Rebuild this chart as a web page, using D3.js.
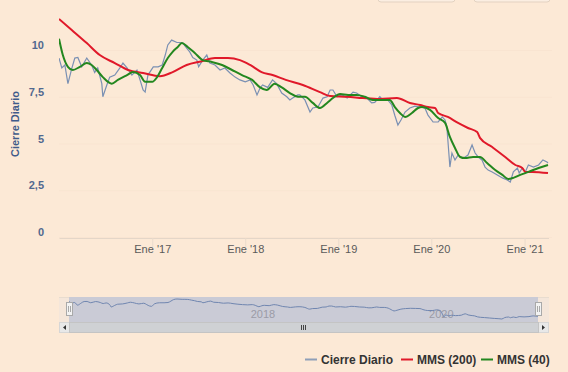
<!DOCTYPE html>
<html>
<head>
<meta charset="utf-8">
<script src="https://cdn.jsdelivr.net/npm/d3@7"></script>
<style>
  body { margin: 0; background: #fce9d6; }
  svg { display: block; font-family: "Liberation Sans", Arial, sans-serif; }
</style>
</head>
<body>
<svg id="chart" width="568" height="372"></svg>
<script>
// Cierre diario (fechas y valores)
let closeDates = ['2016-01-01','2016-01-12','2016-01-24','2016-02-05','2016-02-20','2016-03-03','2016-03-15','2016-03-30',
  '2016-04-19','2016-05-08','2016-05-20','2016-06-01','2016-06-17','2016-06-21','2016-07-06','2016-07-18','2016-08-07',
  '2016-08-27','2016-09-08','2016-09-24','2016-10-13','2016-11-02','2016-11-14','2016-11-26','2016-12-04','2016-12-15',
  '2017-01-05','2017-01-24','2017-02-09','2017-02-21','2017-03-03','2017-03-18','2017-04-08','2017-04-19','2017-05-01',
  '2017-05-16','2017-05-28','2017-06-09','2017-06-25','2017-07-02','2017-07-18','2017-08-03','2017-08-15','2017-09-04',
  '2017-09-24','2017-10-13','2017-11-02','2017-11-22','2017-12-11','2018-01-01','2018-01-20','2018-02-01','2018-02-16',
  '2018-02-28','2018-03-10','2018-03-30','2018-04-18','2018-05-04','2018-05-24','2018-06-13','2018-06-25','2018-07-06',
  '2018-07-26','2018-08-03','2018-08-23','2018-09-12','2018-09-23','2018-10-13','2018-11-02','2018-11-18','2018-11-30',
  '2018-12-11','2018-12-27','2019-01-16','2019-02-05','2019-02-17','2019-02-28','2019-03-14','2019-04-03','2019-04-23',
  '2019-05-12','2019-05-24','2019-06-13','2019-06-25','2019-07-14','2019-07-30','2019-08-11','2019-08-23','2019-09-04',
  '2019-09-20','2019-10-09','2019-10-29','2019-11-18','2019-12-07','2019-12-19','2020-01-08','2020-01-28','2020-02-13',
  '2020-02-24','2020-03-02','2020-03-06','2020-03-14','2020-03-22','2020-04-03','2020-04-15','2020-05-01','2020-05-13',
  '2020-05-24','2020-06-09','2020-06-21','2020-07-03','2020-07-18','2020-07-30','2020-08-11','2020-08-27','2020-09-16',
  '2020-10-06','2020-10-25','2020-11-06','2020-11-18','2020-12-04','2020-12-11','2020-12-23','2021-01-04','2021-01-16',
  '2021-02-05','2021-02-25','2021-03-14','2021-03-30','2021-04-03'];
let closeValues = [9.57,9.04,9.2,8.2,9.0,9.57,9.6,9.1,
  9.57,9.2,8.8,9.04,8.2,7.5,8.1,8.55,8.66,
  9.04,9.3,9.04,8.66,8.93,8.4,7.86,7.75,8.66,
  9.1,9.1,9.2,9.73,10.27,10.53,10.4,10.4,10.37,
  10.1,9.9,9.6,9.46,9.1,9.46,9.73,9.3,9.2,
  8.93,9.04,8.77,8.55,8.4,8.3,8.4,8.13,7.6,
  7.97,8.13,8.0,8.4,8.2,7.7,7.5,7.33,7.43,
  7.6,7.6,7.33,6.68,6.9,6.95,7.43,7.5,7.86,
  7.86,7.5,7.6,7.43,7.6,7.75,7.7,7.5,7.43,
  7.17,7.2,7.5,7.33,7.33,7.06,6.5,5.99,6.26,
  6.68,6.9,7.0,6.95,6.9,6.52,6.15,6.15,6.42,
  6.26,5.88,5.19,3.74,4.49,4.12,4.38,4.22,4.28,
  4.38,4.92,4.49,4.28,4.12,3.74,3.58,3.48,3.32,
  3.16,3.05,2.94,3.48,3.69,3.42,3.69,3.48,3.85,
  3.74,3.85,4.12,4.01,3.96];

// MMS (40)
let mms40Dates = ['2016-01-01','2016-01-16','2016-02-05','2016-02-24','2016-03-23','2016-04-19','2016-05-08','2016-05-28',
  '2016-06-21','2016-07-26','2016-08-19','2016-09-24','2016-10-17','2016-11-14','2016-12-04','2017-01-01','2017-01-20',
  '2017-02-09','2017-03-03','2017-03-22','2017-04-11','2017-04-27','2017-05-20','2017-06-17','2017-07-18','2017-08-23',
  '2017-10-02','2017-11-10','2017-12-19','2018-01-28','2018-02-28','2018-03-26','2018-04-26','2018-05-24','2018-06-25',
  '2018-07-26','2018-08-23','2018-09-23','2018-10-21','2018-11-18','2018-12-11','2019-01-08','2019-02-09','2019-03-14',
  '2019-04-15','2019-05-16','2019-06-21','2019-07-22','2019-08-11','2019-08-31','2019-09-20','2019-10-17','2019-11-10',
  '2019-11-26','2019-12-27','2020-01-28','2020-02-24','2020-03-14','2020-04-03','2020-04-23','2020-05-13','2020-06-13',
  '2020-07-10','2020-08-07','2020-09-08','2020-10-06','2020-10-29','2020-11-18','2020-12-15','2021-01-16','2021-02-25',
  '2021-04-03'];
let mms40Values = [10.6,9.73,9.1,8.93,9.1,9.3,9.2,8.93,
  8.55,8.2,8.4,8.66,8.82,8.66,8.3,8.3,8.55,
  9.04,9.57,9.9,10.16,10.37,10.16,9.84,9.46,9.36,
  9.2,8.93,8.66,8.4,8.0,7.86,8.2,8.0,7.7,
  7.5,7.5,7.17,6.9,7.17,7.43,7.65,7.6,7.6,
  7.5,7.33,7.33,7.33,6.95,6.63,6.42,6.63,6.9,
  6.95,6.8,6.36,6.1,5.35,4.76,4.28,4.22,4.28,
  4.28,3.96,3.58,3.32,3.1,3.16,3.32,3.48,3.69,
  3.85];

// MMS (200)
let mms200Dates = ['2016-01-01','2016-02-20','2016-04-19','2016-06-09','2016-08-07','2016-09-28','2016-11-26','2017-01-31',
  '2017-03-22','2017-05-16','2017-07-14','2017-09-04','2017-10-25','2017-12-11','2018-01-20','2018-03-06','2018-04-18',
  '2018-06-09','2018-08-15','2018-10-21','2018-11-30','2019-02-05','2019-04-07','2019-06-13','2019-08-19','2019-10-09',
  '2019-11-18','2019-12-19','2020-01-16','2020-01-28','2020-03-06','2020-04-15','2020-05-24','2020-06-29','2020-07-10',
  '2020-08-27','2020-10-17','2020-11-26','2020-12-23','2021-01-04','2021-02-01','2021-04-03'];
let mms200Values = [11.66,11.07,10.37,9.73,9.3,8.93,8.77,8.6,
  8.82,9.2,9.4,9.57,9.57,9.46,9.2,8.82,8.66,
  8.4,8.13,7.75,7.54,7.5,7.43,7.38,7.43,7.17,
  7.06,6.95,6.9,6.63,6.42,6.1,5.83,5.61,5.3,
  4.81,4.28,3.85,3.69,3.48,3.48,3.42];

let yTicks = [0, 2.5, 5, 7.5, 10];
let xTickDates = ['2017-01-01', '2018-01-01', '2019-01-01', '2020-01-01', '2021-01-01'];
let navTickDates = ['2018-01-01', '2020-01-01'];

let parse = d3.timeParse('%Y-%m-%d');
let zip = (dates, values) => dates.map((d, i) => ({ date: parse(d), value: values[i] }));
let close = zip(closeDates, closeValues);
let mms40 = zip(mms40Dates, mms40Values);
let mms200 = zip(mms200Dates, mms200Values);

let svg = d3.select('#chart');
let comma = d3.formatLocale({ decimal: ',', thousands: '.', grouping: [3], currency: ['', '€'] });
let fmtY = v => comma.format('~g')(v);
let meses = ['Ene','Feb','Mar','Abr','May','Jun','Jul','Ago','Sep','Oct','Nov','Dic'];

let x = d3.scaleTime()
  .domain([parse('2016-01-01'), parse('2021-04-03')])
  .range([59, 548]);
let y = d3.scaleLinear().domain([0, 10]).range([237, 50]);

// botones de arriba (cortados)
svg.selectAll('rect.btn')
  .data([[378, 77], [474, 76]])
  .enter()
  .append('rect')
  .attr('class', 'btn')
  .attr('x', d => d[0]).attr('y', -20)
  .attr('width', d => d[1]).attr('height', 22)
  .attr('rx', 3)
  .attr('fill', '#fbeee2')
  .attr('stroke', '#e3d2c1');

// rejilla
svg.append('g')
  .selectAll('line')
  .data(yTicks)
  .enter()
  .append('line')
  .attr('x1', 59).attr('x2', 552)
  .attr('y1', d => y(d) + 0.5).attr('y2', d => y(d) + 0.5)
  .attr('stroke', '#f9e4d1');

// eje Y
svg.append('g')
  .selectAll('text')
  .data(yTicks)
  .enter()
  .append('text')
  .attr('x', 44)
  .attr('y', d => y(d) - 1)
  .attr('text-anchor', 'end')
  .attr('font-size', 11)
  .attr('font-weight', 'bold')
  .attr('fill', '#51688f')
  .text(d => fmtY(d));

svg.append('text')
  .attr('transform', 'translate(19,124) rotate(-90)')
  .attr('text-anchor', 'middle')
  .attr('font-size', 11)
  .attr('font-weight', 'bold')
  .attr('fill', '#3f5b8a')
  .text('Cierre Diario');

// eje X
let xAxis = d3.axisBottom(x)
  .tickValues(xTickDates.map(parse))
  .tickSize(9)
  .tickFormat(d => meses[d.getMonth()] + " '" + d3.timeFormat('%y')(d));

let gx = svg.append('g')
  .attr('transform', 'translate(0,238)')
  .call(xAxis);
gx.select('.domain').attr('stroke', '#e4d6c8').attr('d', 'M59.5,0.5H549');
gx.selectAll('.tick line').attr('stroke', '#eadbcc');
gx.selectAll('.tick text')
  .attr('dy', '0.25em')
  .attr('font-size', 11)
  .attr('font-family', '"Liberation Sans", Arial, sans-serif')
  .attr('fill', '#5a5a5a');

// series
svg.append('clipPath').attr('id', 'plot')
  .append('rect').attr('x', 59).attr('y', 10).attr('width', 492).attr('height', 228);

let plot = svg.append('g').attr('clip-path', 'url(#plot)');

let closeLine = d3.line().x(d => x(d.date)).y(d => y(d.value));
let smoothLine = d3.line().x(d => x(d.date)).y(d => y(d.value)).curve(d3.curveMonotoneX);

plot.append('path')
  .datum(close)
  .attr('d', closeLine)
  .attr('fill', 'none')
  .attr('stroke', '#7a90b3')
  .attr('stroke-width', 1.2);

plot.append('path')
  .datum(mms200)
  .attr('d', smoothLine)
  .attr('fill', 'none')
  .attr('stroke', '#e0192a')
  .attr('stroke-width', 2);

plot.append('path')
  .datum(mms40)
  .attr('d', smoothLine)
  .attr('fill', 'none')
  .attr('stroke', '#23871f')
  .attr('stroke-width', 2);

// navegador
let nx = d3.scaleTime().domain(x.domain()).range([69, 538]);
let ny = d3.scaleLinear().domain(d3.extent(closeValues)).range([319, 299]);

svg.append('rect')
  .attr('x', 59).attr('y', 297).attr('width', 490).attr('height', 25)
  .attr('fill', '#f4e6da');
svg.append('line')
  .attr('x1', 59).attr('x2', 549).attr('y1', 297.5).attr('y2', 297.5)
  .attr('stroke', '#e8dccf');
svg.append('rect')
  .attr('x', 69).attr('y', 297).attr('width', 469).attr('height', 25)
  .attr('fill', '#cacbd6');

svg.append('g')
  .selectAll('text')
  .data(navTickDates.map(parse))
  .enter()
  .append('text')
  .attr('x', d => nx(d) + 3)
  .attr('y', 318)
  .attr('font-size', 11)
  .attr('fill', '#9b9ba6')
  .text(d => d.getFullYear());

svg.append('path')
  .datum(close)
  .attr('d', d3.line().x(d => nx(d.date)).y(d => ny(d.value)).curve(d3.curveMonotoneX))
  .attr('fill', 'none')
  .attr('stroke', '#7086b0')
  .attr('stroke-width', 1);

// tiradores
svg.selectAll('rect.handle')
  .data([66, 535])
  .enter()
  .append('rect')
  .attr('class', 'handle')
  .attr('x', d => d + 0.5).attr('y', 302.5)
  .attr('width', 6).attr('height', 13)
  .attr('fill', '#f2f2f2')
  .attr('stroke', '#a9a9a9');
svg.selectAll('line.grip')
  .data([68, 70, 537, 539])
  .enter()
  .append('line')
  .attr('class', 'grip')
  .attr('x1', d => d + 0.5).attr('x2', d => d + 0.5)
  .attr('y1', 306).attr('y2', 312)
  .attr('stroke', '#a9a9a9');

// barra de desplazamiento
svg.append('rect')
  .attr('x', 59.5).attr('y', 322.5).attr('width', 489).attr('height', 10)
  .attr('fill', '#e8e8e8').attr('stroke', '#d6d6d6');
svg.append('rect')
  .attr('x', 69.5).attr('y', 322.5).attr('width', 469).attr('height', 10)
  .attr('fill', '#cfd1d4').attr('stroke', '#c4c4c4');
svg.selectAll('line.sgrip')
  .data([301, 303, 305])
  .enter()
  .append('line')
  .attr('class', 'sgrip')
  .attr('x1', d => d + 0.5).attr('x2', d => d + 0.5)
  .attr('y1', 325).attr('y2', 330)
  .attr('stroke', '#444');
svg.append('path').attr('d', 'M63,327.5L66,325V330Z').attr('fill', '#333');
svg.append('path').attr('d', 'M545,327.5L542,325V330Z').attr('fill', '#333');

// leyenda
let legend = [
  { name: 'Cierre Diario', color: '#8f9fb8', x: 305 },
  { name: 'MMS (200)', color: '#e0192a', x: 401 },
  { name: 'MMS (40)', color: '#23871f', x: 481 }
];
let items = svg.selectAll('g.legend')
  .data(legend)
  .enter()
  .append('g')
  .attr('transform', d => `translate(${d.x},360)`);
items.append('line')
  .attr('x1', 0).attr('x2', 12).attr('y1', -0.5).attr('y2', -0.5)
  .attr('stroke', d => d.color)
  .attr('stroke-width', 2);
items.append('text')
  .attr('x', 16).attr('y', 4)
  .attr('font-size', 12)
  .attr('font-weight', 'bold')
  .attr('fill', '#333')
  .text(d => d.name);
</script>
</body>
</html>
